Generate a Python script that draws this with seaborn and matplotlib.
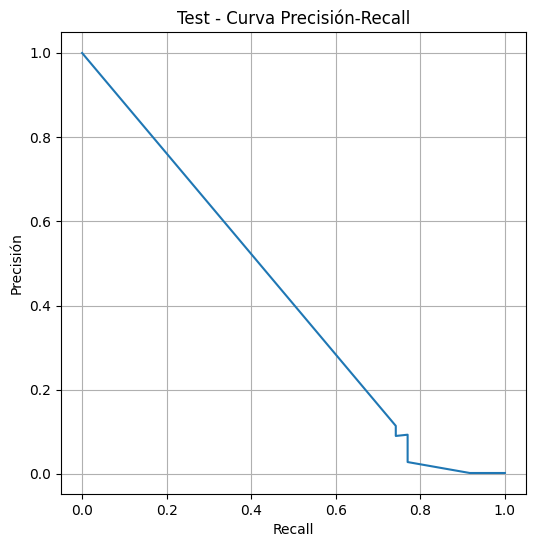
import matplotlib
matplotlib.use("Agg")
import matplotlib.pyplot as plt
import seaborn as sns
import pandas as pd

recall = [0.0, 0.742, 0.742, 0.770, 0.770, 0.917, 1.0]
precision = [1.0, 0.114, 0.090, 0.093, 0.028, 0.002, 0.002]

df = pd.DataFrame({"Recall": recall, "Precisión": precision})

fig = plt.figure(figsize=(5.36, 5.47), dpi=100)
ax = fig.add_axes([0.1138, 0.0969, 0.8675, 0.8446])
sns.lineplot(data=df, x="Recall", y="Precisión", sort=False, estimator=None, ax=ax, color="#1f77b4")
ax.set_title("Test - Curva Precisión-Recall")
ax.set_xlabel("Recall")
ax.set_ylabel("Precisión")
ax.grid(True)
ax.set_xticks([0.0, 0.2, 0.4, 0.6, 0.8, 1.0])
ax.set_yticks([0.0, 0.2, 0.4, 0.6, 0.8, 1.0])
fig.savefig("out.png", dpi=100)
